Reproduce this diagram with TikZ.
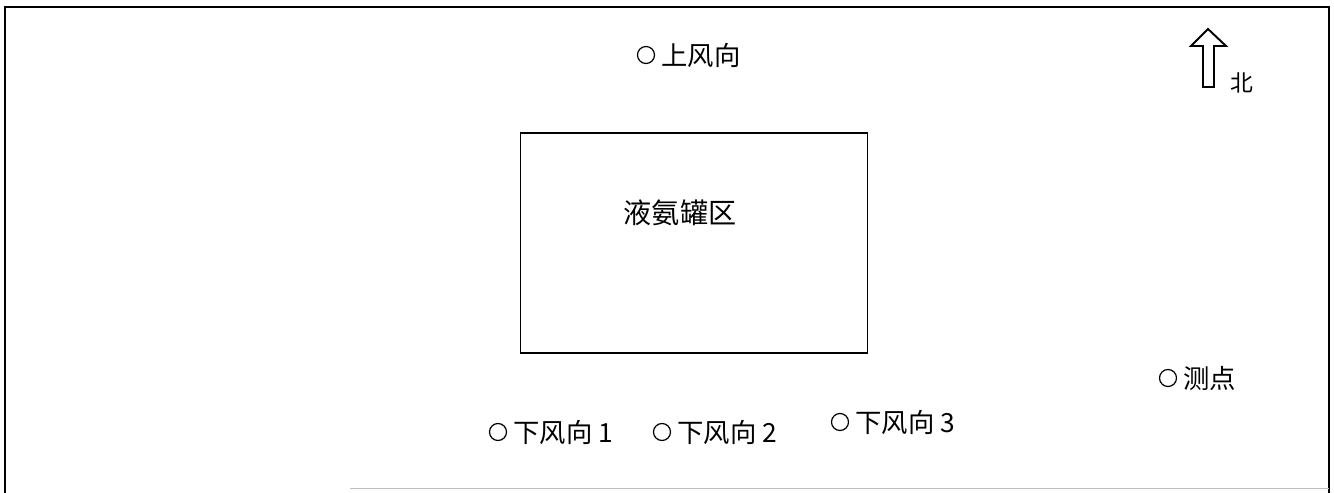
\documentclass[tikz,border=0pt]{standalone}
\usepackage{fontspec}
\newfontfamily\cjk{Noto Sans CJK SC}
\begin{document}
\begin{tikzpicture}[x=0.02cm,y=-0.02cm,
  lbl/.style={font=\cjk\fontsize{15}{18}\selectfont, anchor=west, inner sep=0pt},
  pt/.style={draw, circle, line width=0.7pt, inner sep=0pt, minimum size=0.34cm}]
\useasboundingbox (0,0) rectangle (1334,493);
% frame
\draw[line width=1pt] (5,493) -- (5,7) -- (1329,7) -- (1329,493);
\draw[line width=0.5pt, black!25] (350,488) -- (1329,488);
% tank area
\node[draw, line width=0.9pt, minimum width=347*0.02cm, minimum height=220*0.02cm, inner sep=0pt] (tank) at (694,243) {};
\node[font=\cjk\fontsize{16}{19}\selectfont, inner sep=0pt] (tanklbl) at (680,213) {液氨罐区};
% points
\node[pt] (c0) at (646,55) {};
\node[lbl] (t0) at (661,55) {上风向};
\node[pt] (c1) at (498,432) {};
\node[lbl] (t1) at (513,432) {下风向 1};
\node[pt] (c2) at (662,432) {};
\node[lbl] (t2) at (677,432) {下风向 2};
\node[pt] (c3) at (840,422) {};
\node[lbl] (t3) at (855,422) {下风向 3};
\node[pt] (c4) at (1168,378) {};
\node[lbl] (t4) at (1183,378) {测点};
% north arrow
\draw[line width=1.1pt, line join=miter] (1203,87) -- (1203,46) -- (1191,46) -- (1208,29) -- (1226,46) -- (1214,46) -- (1214,87) -- cycle;
\node[font=\cjk\fontsize{13}{15}\selectfont, inner sep=0pt] (north) at (1242,83) {北};
\end{tikzpicture}
\end{document}
